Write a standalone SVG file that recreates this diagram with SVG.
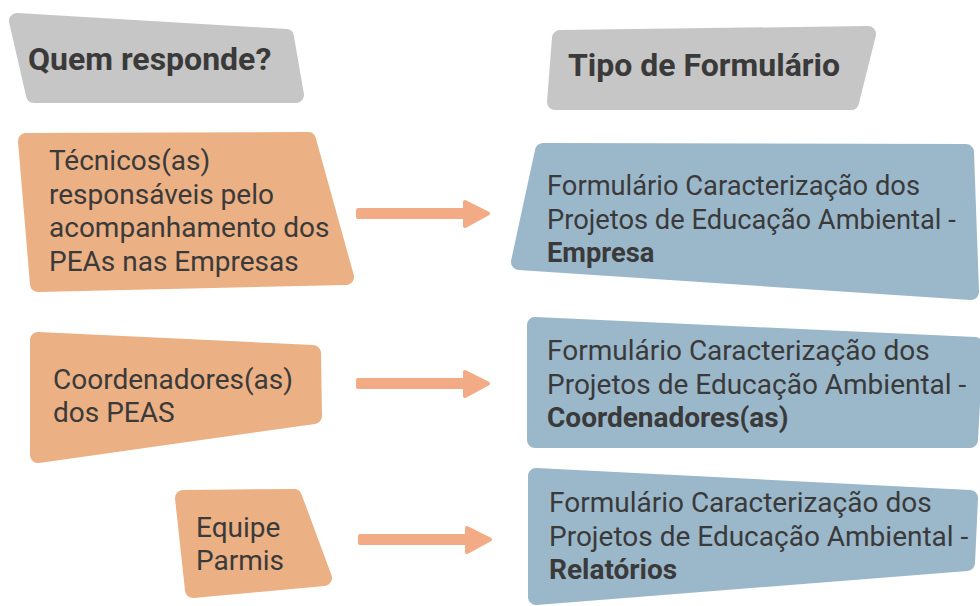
<svg xmlns="http://www.w3.org/2000/svg" width="980" height="606" viewBox="0 0 980 606">
<style>
.hdr{fill:#C6C6C6;stroke:#C6C6C6;stroke-width:16;stroke-linejoin:round}
.org{fill:#EBB084;stroke:#EBB084;stroke-width:16;stroke-linejoin:round}
.blu{fill:#9BB7CA;stroke:#9BB7CA;stroke-width:16;stroke-linejoin:round}
.arr{fill:#F2AB85;stroke:#F2AB85;stroke-width:4;stroke-linejoin:round}
text{font-family:Roboto,"Liberation Sans",sans-serif;fill:#3A3A3A}
.h{font-size:32px;font-weight:bold}
.t{font-size:28px}
.u{font-size:27.3px}
.b{font-weight:bold}
</style>
<rect width="980" height="606" fill="#FFFFFF"/>
<g id="header-quem">
<polygon class="hdr" points="17,21 286,37 296,95 34,95"/>
<text class="h" x="28" y="70">Quem responde?</text>
</g>
<g id="header-tipo">
<polygon class="hdr" points="560,38 868,34 851,102 555,102"/>
<text class="h" x="568" y="76">Tipo de Formulário</text>
</g>
<g id="node-tecnicos">
<polygon class="org" points="26,141 308,140 346,277 38,284"/>
<text class="t"><tspan x="49" y="170">Técnicos(as)</tspan><tspan x="49" y="203.5">responsáveis pelo</tspan><tspan x="49" y="237">acompanhamento dos</tspan><tspan x="49" y="270.5">PEAs nas Empresas</tspan></text>
</g>
<g id="node-coordenadores">
<polygon class="org" points="38,340 313,353 314,416 38,455"/>
<text class="t"><tspan x="53" y="389">Coordenadores(as)</tspan><tspan x="53" y="422">dos PEAS</tspan></text>
</g>
<g id="node-equipe">
<polygon class="org" points="183,498 294,497 324,578 193,590"/>
<text class="t"><tspan x="196" y="537">Equipe</tspan><tspan x="196" y="570">Parmis</tspan></text>
</g>
<g id="form-empresa">
<polygon class="blu" points="543,151 966,152 971,292 519,262"/>
<text class="u"><tspan x="547" y="195">Formulário Caracterização dos</tspan><tspan x="547" y="228.5">Projetos de Educação Ambiental -</tspan><tspan x="547" y="261.5" class="b">Empresa</tspan></text>
</g>
<g id="form-coordenadores">
<polygon class="blu" points="535,325 975,345 970,440 535,440"/>
<text class="t"><tspan x="547" y="360">Formulário Caracterização dos</tspan><tspan x="547" y="393.5">Projetos de Educação Ambiental -</tspan><tspan x="547" y="427" class="b">Coordenadores(as)</tspan></text>
</g>
<g id="form-relatorios">
<polygon class="blu" points="536,476 970,498 967,563 536,597"/>
<text class="t"><tspan x="549" y="512">Formulário Caracterização dos</tspan><tspan x="549" y="545.5">Projetos de Educação Ambiental -</tspan><tspan x="549" y="579" class="b">Relatórios</tspan></text>
</g>
<g id="connectors">
<path class="arr" d="M358,210 L465,210 L465,202 L488,213.5 L465,226 L465,217 L358,217 Z"/>
<path class="arr" d="M358,380 L465,380 L465,372 L488,383.5 L465,396 L465,387 L358,387 Z"/>
<path class="arr" d="M360,536 L467,536 L467,528 L490,539.5 L467,552 L467,543 L360,543 Z"/>
</g>
</svg>
